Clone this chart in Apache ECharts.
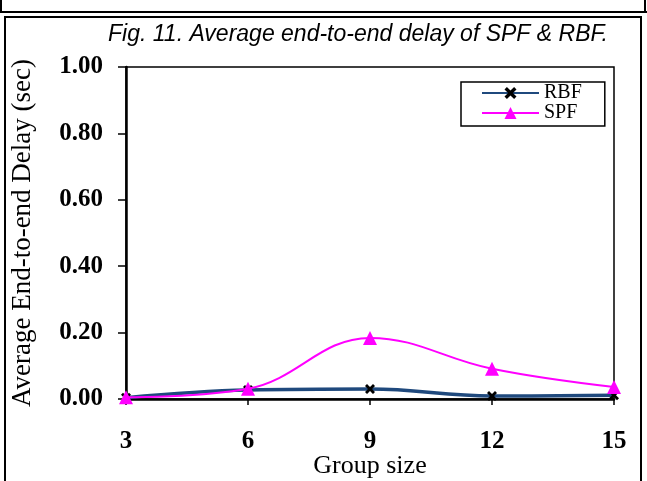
<!DOCTYPE html>
<html>
<head>
<meta charset="utf-8">
<script src="https://cdn.jsdelivr.net/npm/echarts@6/dist/echarts.min.js"></script>
<style>html,body{margin:0;padding:0;background:#fff;}#c{width:647px;height:481px;}</style>
</head>
<body>
<div id="c"></div>
<script>
var categories = ['3', '6', '9', '12', '15'];
var rbfValues = [0.004, 0.027, 0.030, 0.009, 0.011];
var spfValues = [0.005, 0.031, 0.184, 0.091, 0.036];
var yTicks = [0, 0.2, 0.4, 0.6, 0.8, 1.0];

var chart = echarts.init(document.getElementById('c'));
var xSym = 'path://M0,2L2,0L5,3L8,0L10,2L7,5L10,8L8,10L5,7L2,10L0,8L3,5Z';
var serif = '"Liberation Serif", "Times New Roman", serif';
chart.setOption({
  animation: false,
  backgroundColor: '#fff',
  graphic: [
    {type: 'line', shape: {x1: 1, y1: 0, x2: 1, y2: 12}, style: {stroke: '#000', lineWidth: 2}},
    {type: 'line', shape: {x1: 645, y1: 0, x2: 645, y2: 12}, style: {stroke: '#000', lineWidth: 2}},
    {type: 'line', shape: {x1: 0, y1: 12, x2: 647, y2: 12}, style: {stroke: '#000', lineWidth: 2}},
    {type: 'polyline', shape: {points: [[5, 481], [5, 17], [641, 17], [641, 481]]}, style: {stroke: '#000', lineWidth: 2, fill: null}},
    {type: 'text', style: {text: 'Fig. 11. Average end-to-end delay of SPF & RBF.', x: 358, y: 35, textAlign: 'center', textVerticalAlign: 'middle', font: 'italic 23px "Liberation Sans", Arial, sans-serif', fill: '#000'}}
  ],
  legend: {
    orient: 'vertical',
    left: 461, top: 82,
    backgroundColor: '#fff',
    borderColor: '#000', borderWidth: 1.5, borderRadius: 0,
    padding: [1, 23, 3, 20],
    itemGap: 0,
    itemWidth: 57, itemHeight: 15,
    textStyle: {fontFamily: serif, fontSize: 20, color: '#000'},
    data: ['RBF', 'SPF']
  },
  grid: {left: 126, right: 33, top: 67, bottom: 82, show: true, borderColor: '#000', borderWidth: 1.5, outerBoundsMode: 'none', containLabel: false},
  xAxis: {
    type: 'category', data: categories, boundaryGap: false,
    axisLine: {lineStyle: {color: '#000', width: 2.5}},
    axisTick: {show: true, length: 6, alignWithLabel: true, lineStyle: {color: '#000', width: 1.5}},
    axisLabel: {margin: 30, color: '#000', fontWeight: 'bold', fontSize: 25, fontFamily: serif},
    name: 'Group size', nameLocation: 'middle', nameGap: 54, nameMoveOverlap: false,
    nameTextStyle: {color: '#000', fontSize: 26, fontFamily: serif},
    splitLine: {show: false}
  },
  yAxis: {
    type: 'value', min: 0, max: 1, interval: 0.2,
    axisLine: {show: true, lineStyle: {color: '#000', width: 2.5}},
    axisTick: {show: true, length: 8, lineStyle: {color: '#000', width: 1.5}},
    axisLabel: {margin: 23, color: '#000', fontWeight: 'bold', fontSize: 25, fontFamily: serif,
      formatter: function (v) { return v.toFixed(2); }},
    splitLine: {show: false},
    name: 'Average End-to-end Delay (sec)', nameLocation: 'middle', nameGap: 90, nameRotate: 90, nameMoveOverlap: false,
    nameTextStyle: {color: '#000', fontSize: 27, fontFamily: serif}
  },
  series: [
    {
      name: 'RBF', type: 'line', data: rbfValues, smooth: 0.4,
      symbol: xSym, symbolSize: 10, showAllSymbol: true,
      itemStyle: {color: '#000'},
      lineStyle: {color: '#1f497d', width: 3.5},
      z: 3
    },
    {
      name: 'SPF', type: 'line', data: spfValues, smooth: 0.4,
      symbol: 'triangle', symbolSize: 14,
      itemStyle: {color: '#ff00ff'},
      lineStyle: {color: '#ff00ff', width: 2},
      z: 4
    }
  ]
});
</script>
</body>
</html>
